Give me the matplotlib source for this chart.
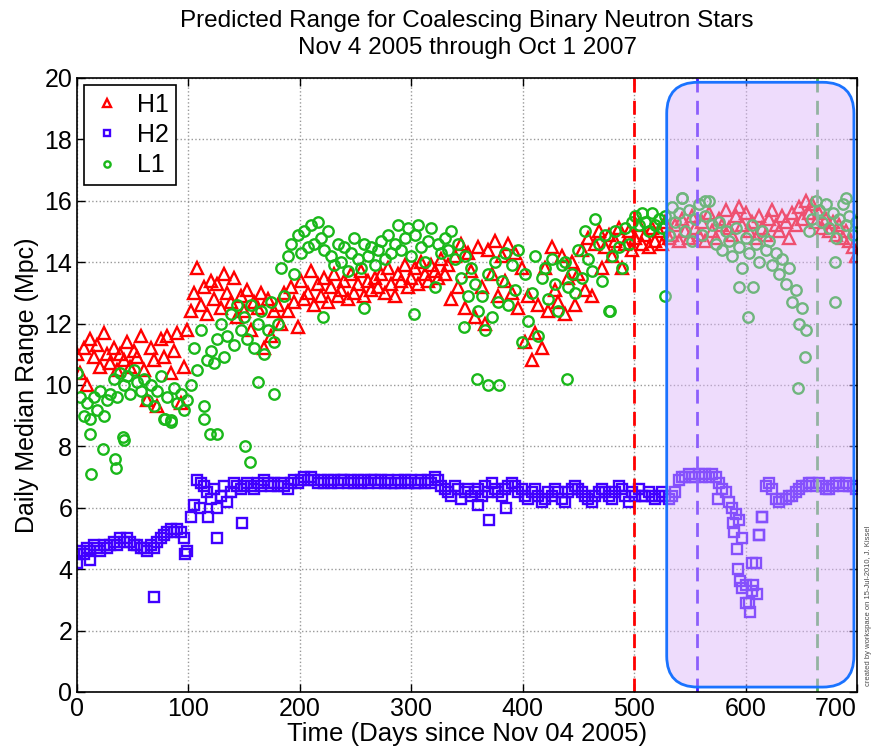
import numpy as np
import matplotlib
matplotlib.use("Agg")
import matplotlib.pyplot as plt
from matplotlib.patches import FancyBboxPatch

plt.rcParams['font.family'] = ['Liberation Sans', 'DejaVu Sans']

# one sample every 3 days, day 0 .. 699
days = np.arange(0, 700, 3)

h1_mpc = [
    11.0, 10.4, 11.2, 10.0, 11.5, 10.9, 11.3, 10.6, 11.7, 11.0,
    10.7, 11.2, 10.5, 11.0, 10.8, 11.4, 10.6, 11.1, 10.9, 11.6,
    10.5, 9.5, 11.2, 10.8, 9.3, 11.5, 10.9, 11.6, 10.4, 11.1,
    11.7, 9.4, 10.6, 11.8, 12.4, 13.0, 13.8, 12.6, 13.2, 12.3,
    13.4, 12.8, 13.3, 12.5, 13.6, 13.0, 12.7, 13.5, 12.2, 12.9,
    12.4, 13.1, 11.8, 12.7, 12.5, 13.0, 11.2, 12.8, 11.6, 12.4,
    12.6, 12.0, 13.0, 12.4, 13.2, 12.7, 11.9, 13.4, 12.8, 13.0,
    13.7, 12.6, 13.3, 12.9, 13.5, 12.7, 13.2, 13.6, 12.9, 13.1,
    13.4, 12.8, 13.6, 13.0, 13.3, 13.7, 12.9, 13.4, 13.1, 13.5,
    13.2, 13.6, 13.0, 13.8, 13.3, 12.9, 13.6, 13.4, 13.9, 13.2,
    13.5, 13.8, 13.3, 14.0, 13.6, 13.4, 13.9, 13.7, 13.5, 14.1,
    13.6, 13.9, 12.8, 14.2, 13.2, 14.6, 12.5, 14.3, 13.7, 12.2,
    14.5, 13.2, 12.0, 14.4, 13.6, 14.7, 12.9, 14.2, 13.4, 14.6,
    13.0, 14.3, 12.5, 13.8, 11.4, 12.9, 10.8, 11.7, 12.6, 11.2,
    13.8, 12.4, 14.5, 13.1, 12.7, 14.2, 12.3, 13.5, 14.0, 12.6,
    13.6, 14.4, 13.1, 14.8, 12.9, 14.6, 15.0, 13.8, 14.5, 14.9,
    14.2, 14.7, 15.1, 13.8, 14.6, 15.0, 14.4, 14.8, 15.2, 14.6,
    14.9, 14.5, 15.1, 14.7, 15.0, 14.6, 15.3, 14.8, 14.9, 15.2,
    14.7, 15.4, 15.0, 14.8, 15.5, 15.1, 14.9, 15.3, 14.7, 15.6,
    15.0, 14.8, 15.4, 15.2, 15.7, 15.1, 14.9, 15.5, 15.8, 15.2,
    15.6, 15.0, 15.3, 14.8, 15.5, 15.1, 14.9, 15.4, 15.7, 15.2,
    15.0, 15.5, 15.3, 14.8, 15.6, 15.2, 15.8, 15.4, 16.0, 15.6,
    15.9, 15.3, 15.6, 15.1, 15.4, 15.0, 15.3, 14.9, 15.2, 14.8,
    15.0, 14.7, 14.5, 14.2,
]

h2_mpc = [
    4.5, 4.6, 4.5, 4.7, 4.6, 4.8, 4.7, 4.6, 4.8, 4.7,
    4.8, 4.9, 4.8, 5.0, 4.9, 5.0, 4.9, 4.8, 4.8, 4.7,
    4.7, 4.6, 4.8, 4.7, 4.9, 5.0, 5.1, 5.2, 5.3, 5.2,
    5.3, 5.2, 5.0, 4.6, 5.7, 6.1, 6.9, 6.8, 6.7, 6.5,
    6.3, 6.6, 6.0, 6.4, 6.7, 6.2, 6.5, 6.8, 6.7, 6.6,
    6.7, 6.8, 6.7, 6.6, 6.8, 6.7, 6.9, 6.8, 6.7, 6.8,
    6.7, 6.8, 6.7, 6.6, 6.8, 6.9, 6.8, 6.9, 7.0, 6.9,
    7.0, 6.9, 6.8, 6.9, 6.8, 6.9, 6.8, 6.9, 6.8, 6.9,
    6.9, 6.8, 6.9, 6.8, 6.9, 6.8, 6.9, 6.8, 6.9, 6.9,
    6.8, 6.9, 6.8, 6.9, 6.8, 6.8, 6.9, 6.8, 6.9, 6.8,
    6.9, 6.8, 6.8, 6.9, 6.8, 6.9, 6.8, 7.0, 6.9, 6.7,
    6.6, 6.5, 6.4, 6.7, 6.6, 6.3, 6.5, 6.6, 6.4, 6.5,
    6.6, 6.4, 6.7, 6.5, 6.8, 6.6, 6.5, 6.4, 6.6, 6.7,
    6.8, 6.7, 6.5, 6.6, 6.4, 6.3, 6.5, 6.6, 6.4, 6.2,
    6.3, 6.5, 6.4, 6.6, 6.5, 6.3, 6.2, 6.5, 6.6, 6.7,
    6.6, 6.5, 6.4, 6.3, 6.2, 6.4, 6.5, 6.6, 6.5, 6.4,
    6.3, 6.5, 6.7, 6.6, 6.4, 6.2, 6.5, 6.4, 6.6, 6.4,
    6.4, 6.5, 6.4, 6.3, 6.4, 6.5, 6.4, 6.3, 6.4, 6.5,
    6.9, 7.0, 7.0, 7.1, 7.0, 7.0, 7.1, 7.0, 7.1, 7.0,
    7.1, 7.0, 6.8, 6.6, 6.5, 6.2, 6.0, 5.8, 5.6, 5.0,
    3.5, 2.9, 3.3, 4.2, 5.1, 5.7, 6.7, 6.8, 6.6, 6.3,
    6.2, 6.3, 6.3, 6.4, 6.4, 6.5, 6.6, 6.7, 6.7, 6.8,
    6.8, 6.7, 6.8, 6.7, 6.6, 6.6, 6.7, 6.8, 6.8, 6.7,
    6.8, 6.7, 6.7, 6.6,
]

l1_mpc = [
    10.4, 9.6, 9.0, 9.4, 8.9, 9.6, 9.2, 9.8, 9.0, 9.5,
    9.7, 10.2, 9.6, 10.4, 10.0, 10.3, 9.7, 10.5, 10.1, 9.8,
    10.2, 9.5, 10.0, 9.3, 9.8, 10.3, 8.9, 9.6, 8.8, 9.9,
    9.4, 9.7, 9.2, 9.5, 10.0, 11.2, 10.5, 11.8, 9.3, 10.8,
    11.1, 10.7, 11.5, 12.0, 10.9, 11.6, 12.3, 11.3, 12.6, 11.8,
    12.2, 11.5, 12.6, 11.2, 12.0, 12.4, 11.0, 11.8, 12.7, 11.4,
    12.0, 13.8, 12.9, 14.2, 14.6, 13.6, 14.9, 14.3, 15.0, 14.5,
    15.2, 14.6, 15.3, 14.8, 14.4, 15.0, 14.2, 13.9, 14.6, 14.0,
    14.5, 13.7, 14.3, 14.8, 14.1, 13.8, 14.6, 14.2, 14.5, 13.9,
    14.4, 14.7, 14.1, 14.9, 14.3, 14.6, 15.2, 14.4, 14.8, 15.1,
    14.2, 14.9, 15.2, 14.5, 14.0, 14.7, 15.1, 13.2, 14.6, 14.3,
    14.8, 14.4, 15.0, 14.1, 14.6, 13.5, 14.2, 12.9, 13.8, 13.3,
    12.4, 12.9, 11.8, 13.6, 12.2, 14.0, 12.7, 13.4, 14.3, 12.6,
    13.9, 13.1, 14.4, 11.4, 13.6, 12.1, 13.0, 14.2, 11.6, 13.5,
    13.8, 12.8, 14.1, 13.3, 12.4, 13.9, 14.0, 13.2, 13.6, 13.0,
    14.4, 13.5, 15.0, 14.1, 13.7, 15.4, 14.6, 13.4, 14.9, 12.4,
    14.2, 15.0, 14.5, 13.8, 15.1, 14.6, 15.3, 15.5, 15.2, 15.6,
    15.3, 15.0, 15.6, 15.2, 15.4, 15.1, 15.5, 14.9, 15.8, 15.3,
    15.6, 16.1, 15.0, 15.7, 14.7, 15.4, 15.9, 14.9, 15.5, 16.0,
    15.2, 14.6, 15.3, 14.4, 15.0, 14.7, 14.2, 15.1, 14.5, 13.8,
    14.8, 14.3, 15.2, 14.6, 14.0, 15.0, 14.4, 14.7, 13.9, 14.3,
    13.6, 14.1, 13.3, 13.8, 12.7, 13.1, 12.0, 12.5, 11.8, 15.0,
    15.4, 16.0, 15.7, 15.3, 15.9, 15.1, 15.6, 14.8, 15.4, 15.9,
    15.2, 15.5, 14.9, 15.3,
]

# scattered days that sit away from the main band
h2_extra_days = [0, 12, 69, 97, 110, 118, 126, 148, 360, 370, 385, 575,
                 589, 590, 592, 593, 595, 597, 600, 604, 606, 607, 610, 612, 615]
h2_extra_mpc = [4.2, 4.3, 3.1, 4.5, 6.0, 5.7, 5.0, 5.5, 6.1, 5.6, 6.0, 6.3,
                5.5, 5.2, 4.65, 4.0, 3.6, 3.4, 2.9, 2.6, 4.2, 3.5, 3.2, 5.1, 5.7]

l1_extra_days = [12, 13, 23, 34, 35, 41, 42, 79, 84, 114, 119, 126, 151, 155,
                 162, 177, 221, 258, 302, 347, 359, 369, 379, 440, 478, 528,
                 543, 564, 594, 602, 607, 647, 653, 680, 680, 690]
l1_extra_mpc = [8.4, 7.1, 7.9, 7.6, 7.3, 8.3, 8.2, 8.9, 8.85, 8.9, 8.4, 8.4, 8.0, 7.5,
                10.1, 9.7, 12.2, 12.5, 12.3, 11.9, 10.2, 10.0, 10.0, 10.2, 12.4, 12.9,
                16.1, 16.0, 13.2, 12.2, 13.2, 9.9, 10.9, 12.7, 14.0, 16.1]

# epoch markers (days)
h1_line, h2_line, l1_line = 500, 556, 664

red = (1.0, 0.0, 0.0)
blue = (0.25, 0.0, 1.0)
green = (0.1, 0.72, 0.1)

fig = plt.figure(figsize=(8.81, 7.52), dpi=100)
ax = fig.add_axes([0.0874, 0.0798, 0.8854, 0.8165])

ax.plot(days, h1_mpc, '^', ls='none', mfc='none', mec=red, ms=8.5, mew=1.7, label='H1')
ax.plot(np.concatenate([days, h2_extra_days]), h2_mpc + h2_extra_mpc, 's', ls='none',
        mfc='none', mec=blue, ms=6.5, mew=1.7, label='H2')
ax.plot(np.concatenate([days, l1_extra_days]), l1_mpc + l1_extra_mpc, 'o', ls='none',
        mfc='none', mec=green, ms=7.5, mew=1.7, label='L1')

ax.axvline(h1_line, color=red, ls=(0, (5, 3)), lw=2)
ax.axvline(h2_line, color=(0.3, 0.1, 1.0), ls=(0, (5, 3)), lw=2)
ax.axvline(l1_line, color=(0.35, 0.7, 0.35), ls=(0, (5, 3)), lw=2)

box = FancyBboxPatch((0.756, 0.008), 0.240, 0.985, transform=ax.transAxes,
                     boxstyle='round,pad=0,rounding_size=0.04', mutation_aspect=1.27,
                     facecolor=(0.86, 0.7, 0.98, 0.45), edgecolor=(0.1, 0.45, 1.0),
                     lw=2, zorder=5, clip_on=False)
ax.add_patch(box)

ax.set_xlim(0, 700)
ax.set_ylim(0, 20)
ax.set_xticks(range(0, 701, 100))
ax.set_yticks(range(0, 21, 2))
ax.tick_params(direction='in', top=True, right=True, labelsize=18, length=6, width=1)
ax.get_xticklabels()[-1].set_horizontalalignment('right')
ax.grid(True, ls=':', color=(0.6, 0.6, 0.6), lw=1)
for s in ax.spines.values():
    s.set_linewidth(1.2)

ax.set_xlabel('Time (Days since Nov 04 2005)', fontsize=18.5, labelpad=1)
ax.set_ylabel('Daily Median Range (Mpc)', fontsize=18, labelpad=4)
ax.set_title('Predicted Range for Coalescing Binary Neutron Stars\nNov 4 2005 through Oct 1 2007',
             fontsize=17.5, pad=17, linespacing=1.3)

leg = ax.legend(loc='upper left', fontsize=18, fancybox=False, framealpha=1,
                edgecolor='black', markerscale=0.6, handlelength=1.2,
                borderaxespad=0.3, handletextpad=0.6, labelspacing=0.25,
                borderpad=0.3)
leg.get_frame().set_linewidth(1.2)
leg.set_zorder(6)

fig.text(0.986, 0.195, 'created by workspace on 15-Jul-2010, J. Kissel',
         rotation=90, fontsize=5.5, ha='center', va='center', color='0.3')

fig.savefig('out.png', dpi=100)
